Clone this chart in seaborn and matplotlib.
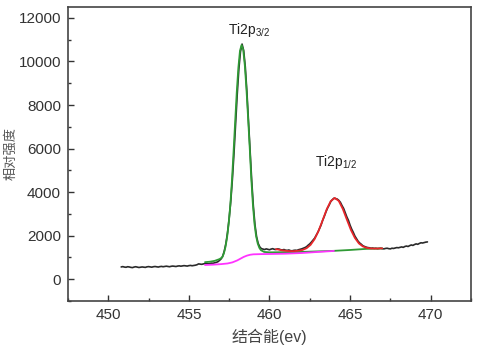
import numpy as np
import pandas as pd
import matplotlib
matplotlib.use("Agg")
import matplotlib.pyplot as plt
import seaborn as sns
from matplotlib.ticker import MultipleLocator

# raw spectrum, 0.1 eV steps from 450.8 to 469.8
raw_start = 450.8
raw_counts = [
    560, 575, 555, 545, 570, 560, 540, 530, 555, 570,
    550, 535, 545, 560, 550, 540, 565, 575, 560, 550,
    570, 580, 565, 555, 575, 585, 570, 580, 595, 585,
    570, 590, 600, 590, 580, 600, 610, 595, 605, 620,
    610, 600, 620, 630, 615, 625, 640, 660, 700, 690,
    680, 700, 710, 720, 705, 720, 735, 730, 750, 770,
    800, 860, 930, 1060, 1300, 1650, 2150, 2800, 3600, 4600,
    5800, 7150, 8500, 9650, 10450, 10800, 10500, 9750, 8600, 7250,
    5850, 4500, 3350, 2500, 1950, 1640, 1480, 1400, 1380, 1360,
    1390, 1370, 1350, 1380, 1400, 1370, 1360, 1390, 1380, 1350,
    1340, 1360, 1330, 1320, 1340, 1310, 1300, 1320, 1330, 1320,
    1350, 1370, 1390, 1420, 1450, 1490, 1560, 1620, 1700, 1790,
    1880, 2010, 2150, 2320, 2480, 2700, 2880, 3080, 3260, 3400,
    3560, 3650, 3720, 3700, 3680, 3620, 3530, 3380, 3250, 3060,
    2860, 2700, 2480, 2300, 2150, 1980, 1860, 1740, 1660, 1600,
    1530, 1500, 1470, 1450, 1440, 1420, 1430, 1410, 1420, 1400,
    1410, 1420, 1400, 1390, 1410, 1420, 1400, 1390, 1420, 1410,
    1430, 1450, 1440, 1460, 1480, 1460, 1500, 1520, 1500, 1540,
    1570, 1550, 1590, 1620, 1600, 1640, 1670, 1660, 1680, 1700,
    1710,
]
raw_ev = np.round(raw_start + 0.1 * np.arange(len(raw_counts)), 1)

# Ti2p3/2 fit (green)
fit1_ev = [456.0, 456.3, 456.6, 456.9, 457.07, 457.17, 457.27, 457.37, 457.47, 457.57,
           457.67, 457.77, 457.87, 457.97, 458.07, 458.17, 458.27, 458.37, 458.47, 458.57,
           458.67, 458.77, 458.87, 458.97, 459.07, 459.17, 459.27, 459.37, 459.47, 459.67,
           460.0, 461.0, 462.0, 463.0, 464.0, 465.0, 466.0, 467.0]
fit1_counts = [780, 800, 840, 920, 1000, 1180, 1480, 1920, 2560, 3390,
               4500, 5820, 7210, 8580, 9710, 10490, 10760, 10550, 9830, 8760,
               7460, 6110, 4650, 3450, 2550, 1980, 1640, 1440, 1330, 1250,
               1230, 1240, 1250, 1275, 1300, 1340, 1390, 1410]

# Ti2p1/2 fit (red)
fit2_ev = [460.4, 460.8, 461.2, 461.5, 461.8, 462.05, 462.3, 462.55, 462.8, 463.05,
           463.3, 463.55, 463.8, 464.05, 464.3, 464.55, 464.8, 465.05, 465.3, 465.55,
           465.8, 466.05, 466.3, 466.6, 467.0]
fit2_counts = [1380, 1320, 1290, 1285, 1308, 1340, 1420, 1574, 1838, 2224,
               2709, 3206, 3583, 3730, 3593, 3226, 2739, 2264, 1893, 1639,
               1500, 1435, 1408, 1405, 1415]

# background (magenta)
bg_ev = [456.0, 456.5, 457.0, 457.4, 457.7, 458.0, 458.2, 458.4, 458.6, 458.8,
         459.0, 459.5, 460.0, 461.0, 462.0, 463.0, 464.0]
bg_counts = [650, 665, 690, 720, 770, 860, 940, 1020, 1080, 1120,
             1140, 1150, 1155, 1170, 1200, 1250, 1295]

sns.set_theme(style="ticks")
plt.rcParams["font.family"] = ["Liberation Sans", "Noto Sans CJK SC", "DejaVu Sans"]
plt.rcParams["mathtext.default"] = "regular"

fig = plt.figure(figsize=(4.84, 3.54), dpi=100)
ax = fig.add_axes([0.1405, 0.15, 0.8325, 0.83])

sns.lineplot(x=raw_ev, y=raw_counts, ax=ax, color="#2a2a2a", lw=1.2, sort=False, estimator=None)
sns.lineplot(x=fit1_ev, y=fit1_counts, ax=ax, color="#2f9a35", lw=1.3, sort=False, estimator=None)
sns.lineplot(x=fit2_ev, y=fit2_counts, ax=ax, color="#e8262a", lw=1.3, sort=False, estimator=None)
sns.lineplot(x=bg_ev, y=bg_counts, ax=ax, color="#ff33ff", lw=1.3, sort=False, estimator=None)

ax.text(457.4, 11450, "Ti2p$_{3/2}$", fontsize=10, ha="left", va="center", color="#222222")
ax.text(462.85, 5400, "Ti2p$_{1/2}$", fontsize=10, ha="left", va="center", color="#222222")

ax.set_xlim(447.5, 472.5)
ax.set_ylim(-1000, 12500)
ax.xaxis.set_major_locator(MultipleLocator(5))
ax.xaxis.set_minor_locator(MultipleLocator(2.5))
ax.yaxis.set_major_locator(MultipleLocator(2000))
ax.yaxis.set_minor_locator(MultipleLocator(1000))
ax.set_yticks([0, 2000, 4000, 6000, 8000, 10000, 12000])
ax.tick_params(which="both", direction="in", colors="#333333", labelsize=11,
               top=False, right=False, width=1)
ax.tick_params(which="major", length=4, pad=5)
ax.tick_params(which="minor", length=2.5)
for s in ax.spines.values():
    s.set_color("#444444")
    s.set_linewidth(1.2)

ax.set_xlabel("结合能(ev)", fontsize=11.5, color="#444444", labelpad=5)
ax.set_ylabel("相对强度", fontsize=9.5, color="#555555")
ax.yaxis.set_label_coords(-0.125, 0.5)

fig.savefig("out.png", dpi=100)
